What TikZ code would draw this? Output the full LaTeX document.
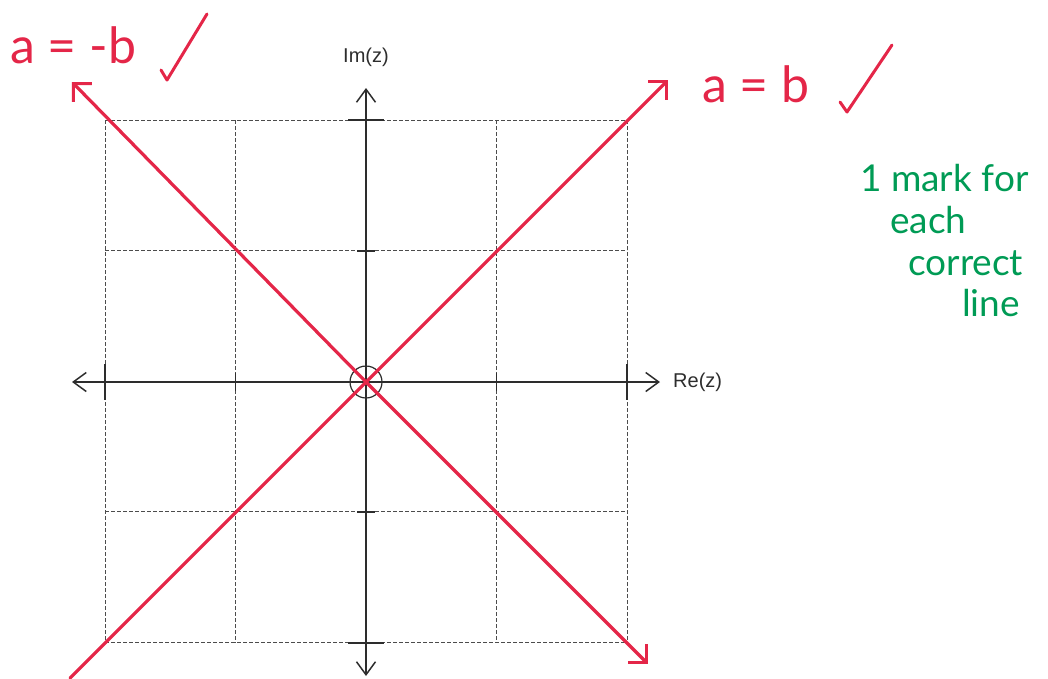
\documentclass[tikz,border=0pt]{standalone}
\usepackage{fontspec}
\setmainfont{Liberation Sans}
\newfontfamily\hand{Lato}
\usetikzlibrary{arrows.meta}
\definecolor{pen}{RGB}{228,38,72}
\definecolor{gpen}{RGB}{0,155,85}
\definecolor{axc}{RGB}{45,45,45}
\begin{document}
\begin{tikzpicture}[x=1pt,y=-1pt,
  gridline/.style={draw=axc!85,line width=1pt,dash pattern=on 4pt off 2pt},
  axisline/.style={draw=axc,line width=1.5pt,-{Straight Barb[length=13pt,width=19pt,line width=1.5pt]}},
  tickmark/.style={draw=axc,line width=1.5pt},
  redline/.style={draw=pen,line width=3.2pt,line cap=round,-{Straight Barb[length=13pt,width=26pt,line width=3pt]}},
  redtxt/.style={text=pen,font=\hand\fontsize{50}{54}\selectfont,inner sep=0pt},
  greentxt/.style={text=gpen,font=\hand\fontsize{37}{40}\selectfont,inner sep=0pt,anchor=west},
  lbl/.style={font=\fontsize{20}{24}\selectfont,text=axc,inner sep=0pt},
  check/.style={draw=pen,line width=3pt,line cap=round,line join=round}]
\useasboundingbox (0,0) rectangle (1048,678);
% grid
\foreach \v in {105,235.5,366,496.5,627} {
  \draw[gridline] (\v,120) -- (\v,643);
  \draw[gridline] (105,\v+15) -- (627,\v+15);
}
% axes
\coordinate (O) at (366,382);
\coordinate (xl) at (72,382);
\coordinate (xr) at (660,382);
\coordinate (yt) at (366,88);
\coordinate (yb) at (366,676);
\draw[axisline] (O) -- (xr);
\draw[axisline] (O) -- (xl);
\draw[axisline] (O) -- (yt);
\draw[axisline] (O) -- (yb);
% ticks
\foreach \x/\h in {105/18,235.5/9,496.5/9,627/18} \draw[tickmark] (\x,382-\h) -- (\x,382+\h);
\foreach \y/\h in {120/18,251/9,512/9,643/18} \draw[tickmark] (366-\h,\y) -- (366+\h,\y);
\draw[axc,line width=1.2pt] (O) circle[radius=16];
\node[lbl] (im) at (366,57) {Im(z)};
\node[lbl,anchor=west] (re) at (673,382) {Re(z)};
% red lines
\coordinate (p1) at (70,678);
\coordinate (p2) at (668,80);
\coordinate (q1) at (648,664);
\coordinate (q2) at (72,82);
\draw[redline] (p1) -- (p2);
\draw[redline] (O) -- (q1);
\draw[redline] (O) -- (q2);
% labels
\node[redtxt,anchor=west] (amb) at (10,45) {a = -b};
\node[redtxt,anchor=west] (ab) at (702,84) {a = b};
\draw[check] (161,70) -- (167,80) -- (207,14);
\draw[check] (840,102) -- (847,112) -- (892,45);
\node[greentxt] (g1) at (860,178) {1 mark for};
\node[greentxt] (g2) at (890,220) {each};
\node[greentxt] (g3) at (908,263) {correct};
\node[greentxt] (g4) at (962,303) {line};
\end{tikzpicture}
\end{document}
